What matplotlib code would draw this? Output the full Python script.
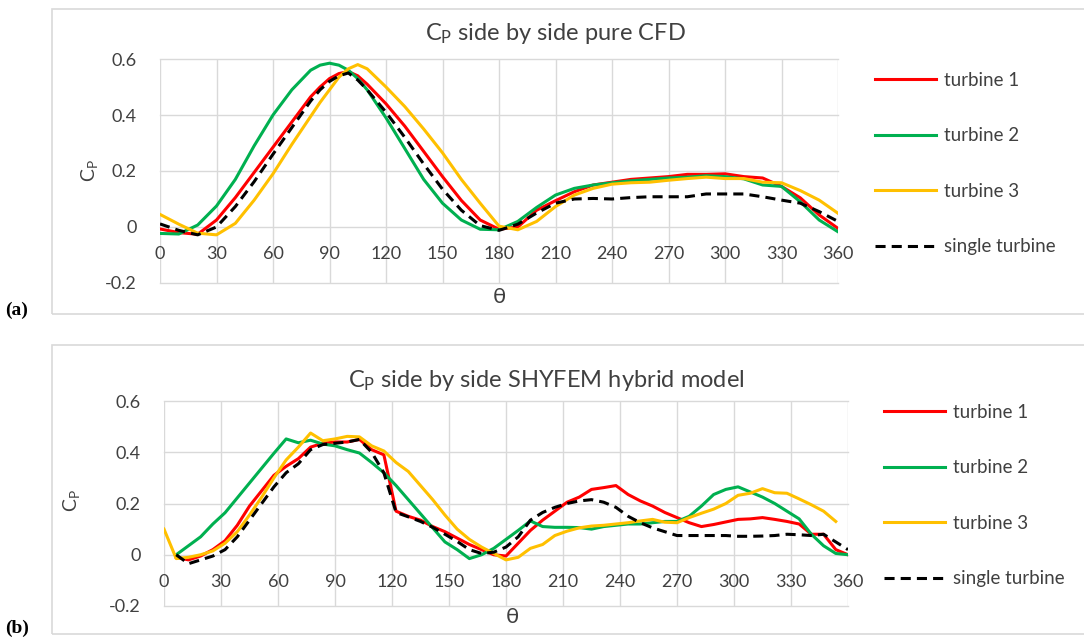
import numpy as np
import matplotlib.pyplot as plt
from matplotlib.patches import Rectangle

plt.rcParams['font.family'] = ['Lato', 'DejaVu Sans']
plt.rcParams['mathtext.default'] = 'regular'

# (a) pure CFD, every 10 deg with extra points around the peaks
theta_a = [0, 10, 20, 30, 40, 50, 60, 70, 80, 85, 90, 95, 100, 105, 110,
           120, 130, 140, 150, 160, 170, 180, 190, 200, 210, 220, 230, 240,
           250, 260, 270, 280, 290, 300, 310, 320, 330, 340, 350, 360]
t1_a = [-0.007, -0.02, -0.026, 0.025, 0.105, 0.195, 0.285, 0.375, 0.465, 0.50,
        0.53, 0.548, 0.555, 0.54, 0.51, 0.44, 0.36, 0.27, 0.18, 0.095,
        0.025, -0.008, 0.0, 0.06, 0.094, 0.126, 0.15, 0.16, 0.17, 0.175,
        0.18, 0.188, 0.188, 0.19, 0.18, 0.175, 0.145, 0.104, 0.043, -0.005]
t2_a = [-0.023, -0.025, 0.007, 0.075, 0.17, 0.29, 0.40, 0.49, 0.56, 0.578,
        0.585, 0.578, 0.56, 0.53, 0.49, 0.39, 0.28, 0.17, 0.085, 0.025,
        -0.008, -0.01, 0.02, 0.07, 0.114, 0.138, 0.15, 0.158, 0.165, 0.17,
        0.175, 0.178, 0.183, 0.18, 0.172, 0.15, 0.145, 0.09, 0.025, -0.017]
t3_a = [0.045, 0.01, -0.022, -0.028, 0.013, 0.096, 0.19, 0.295, 0.395, 0.445,
        0.49, 0.535, 0.565, 0.58, 0.565, 0.5, 0.43, 0.35, 0.265, 0.17,
        0.085, 0.003, -0.01, 0.02, 0.073, 0.114, 0.138, 0.153, 0.158, 0.16,
        0.167, 0.173, 0.178, 0.173, 0.173, 0.16, 0.158, 0.13, 0.096, 0.049]
single_a = [0.011, -0.012, -0.028, 0.0, 0.073, 0.162, 0.26, 0.355, 0.45, 0.49,
            0.52, 0.54, 0.55, 0.525, 0.49, 0.41, 0.32, 0.225, 0.135, 0.06,
            0.005, -0.012, 0.01, 0.05, 0.085, 0.1, 0.102, 0.1, 0.105, 0.108,
            0.108, 0.108, 0.118, 0.118, 0.118, 0.108, 0.096, 0.085, 0.055, 0.02]

# (b) SHYFEM hybrid model, 56 steps per revolution
theta_b = np.linspace(0, 360, 57)
nan = np.nan
t1_b = [nan, -0.01, -0.02, -0.005, 0.02, 0.055, 0.115, 0.19, 0.25, 0.31,
        0.345, 0.375, 0.42, 0.435, 0.44, 0.44, 0.45, 0.41, 0.39, 0.17,
        0.15, 0.135, 0.11, 0.09, 0.065, 0.04, 0.02, 0.0, -0.005, 0.045,
        0.095, 0.135, 0.17, 0.205, 0.225, 0.255, 0.262, 0.27, 0.235, 0.21,
        0.19, 0.165, 0.145, 0.125, 0.11, 0.118, 0.128, 0.138, 0.14, 0.145,
        0.138, 0.13, 0.12, 0.08, 0.08, 0.02, 0.0]
t2_b = [nan, 0.0, 0.035, 0.07, 0.12, 0.164, 0.222, 0.28, 0.338, 0.396,
        0.452, 0.437, 0.447, 0.432, 0.425, 0.41, 0.397, 0.36, 0.32, 0.27,
        0.215, 0.16, 0.105, 0.05, 0.02, -0.015, 0.0, 0.025, 0.06, 0.095,
        0.132, 0.11, 0.107, 0.107, 0.106, 0.1, 0.11, 0.115, 0.12, 0.12,
        0.125, 0.13, 0.13, 0.15, 0.19, 0.235, 0.255, 0.265, 0.245, 0.225,
        0.2, 0.17, 0.14, 0.08, 0.035, 0.005, 0.0]
t3_b = [0.1, -0.015, -0.01, 0.0, 0.015, 0.045, 0.09, 0.155, 0.225, 0.3,
        0.37, 0.42, 0.475, 0.445, 0.452, 0.462, 0.46, 0.425, 0.405, 0.36,
        0.325, 0.27, 0.215, 0.155, 0.1, 0.06, 0.03, 0.005, -0.02, -0.01,
        0.025, 0.04, 0.075, 0.092, 0.105, 0.112, 0.115, 0.12, 0.125, 0.132,
        0.138, 0.127, 0.125, 0.145, 0.162, 0.178, 0.2, 0.232, 0.24, 0.258,
        0.242, 0.24, 0.218, 0.195, 0.17, 0.13, nan]
single_b = [nan, 0.0, -0.035, -0.02, -0.005, 0.02, 0.07, 0.135, 0.2, 0.265,
            0.32, 0.355, 0.41, 0.43, 0.435, 0.44, 0.45, 0.4, 0.32, 0.165,
            0.148, 0.13, 0.107, 0.08, 0.052, 0.02, 0.005, 0.01, 0.03, 0.07,
            0.135, 0.165, 0.185, 0.2, 0.21, 0.215, 0.205, 0.185, 0.15, 0.125,
            0.105, 0.09, 0.075, 0.075, 0.075, 0.075, 0.075, 0.072, 0.072, 0.073,
            0.075, 0.08, 0.078, 0.075, 0.08, 0.05, 0.02]

labels = ['turbine 1', 'turbine 2', 'turbine 3', 'single turbine']
colors = ['#FF0000', '#00B050', '#FFC000', 'black']
grid_c = '#d9d9d9'
text_c = '#404040'

W, H = 1084, 639
fig = plt.figure(figsize=(W / 100, H / 100), dpi=100)

# chart area frames
for y0, y1 in [(9, 314), (345, 634)]:
    fig.patches.append(Rectangle((52 / W, 1 - y1 / H), 1.2, (y1 - y0) / H,
                                 transform=fig.transFigure, fill=False,
                                 edgecolor=grid_c, lw=1.2))


def panel(box, theta, series, title, title_xy, ylab_xy, th_xy, leg_xy):
    l, r, t, b = box
    ax = fig.add_axes([l / W, 1 - b / H, (r - l) / W, (b - t) / H])
    for ys, lab, c in zip(series, labels, colors):
        if c == 'black':
            ax.plot(theta, ys, color=c, lw=2.2, dashes=(3.3, 2.0), label=lab)
        else:
            ax.plot(theta, ys, color=c, lw=2.2, label=lab)
    ax.set_xlim(0, 360)
    ax.set_ylim(-0.2, 0.6)
    ax.set_xticks(np.arange(0, 361, 30))
    ax.set_yticks([-0.2, 0, 0.2, 0.4, 0.6])
    ax.set_yticklabels(['-0.2', '0', '0.2', '0.4', '0.6'])
    ax.grid(color=grid_c, lw=1.0)
    ax.set_axisbelow(True)
    for ln in ax.get_xgridlines() + ax.get_ygridlines():
        ln.set_clip_on(False)
    for s in ax.spines.values():
        s.set_visible(False)
    ax.spines['bottom'].set_position(('data', 0))
    ax.tick_params(length=0, labelsize=13, colors=text_c)
    ax.tick_params(axis='x', pad=14)
    ax.tick_params(axis='y', pad=17)
    fig.text(title_xy[0] / W, 1 - title_xy[1] / H, title, ha='center',
             va='center', fontsize=17, color=text_c)
    fig.text(ylab_xy[0] / W, 1 - ylab_xy[1] / H, '$C_P$', rotation=90,
             ha='center', va='center', fontsize=14, color=text_c)
    fig.text(th_xy[0] / W, 1 - th_xy[1] / H, 'θ', ha='center', va='center',
             fontsize=16, color=text_c)
    fig.legend(*ax.get_legend_handles_labels(), loc='upper left',
               bbox_to_anchor=(leg_xy[0] / W, 1 - leg_xy[1] / H),
               frameon=False, fontsize=13.5, handlelength=3.25,
               handletextpad=0.45, labelspacing=2.05, borderpad=0,
               borderaxespad=0, labelcolor=text_c)
    return ax


panel((160, 838, 59, 283), theta_a, [t1_a, t2_a, t3_a, single_a],
      '$C_P$ side by side pure CFD', (555, 33), (90, 171), (499, 297),
      (875, 72))
panel((164, 848, 401, 606), theta_b, [t1_b, t2_b, t3_b, single_b],
      '$C_P$ side by side SHYFEM hybrid model', (546, 381), (72, 501),
      (512, 617), (884, 404))

fig.text(5 / W, 1 - 310 / H, '(a)', fontsize=14, fontweight='bold',
         family='Liberation Serif', va='center')
fig.text(5 / W, 1 - 628 / H, '(b)', fontsize=14, fontweight='bold',
         family='Liberation Serif', va='center')

fig.savefig('out.png', dpi=100)
